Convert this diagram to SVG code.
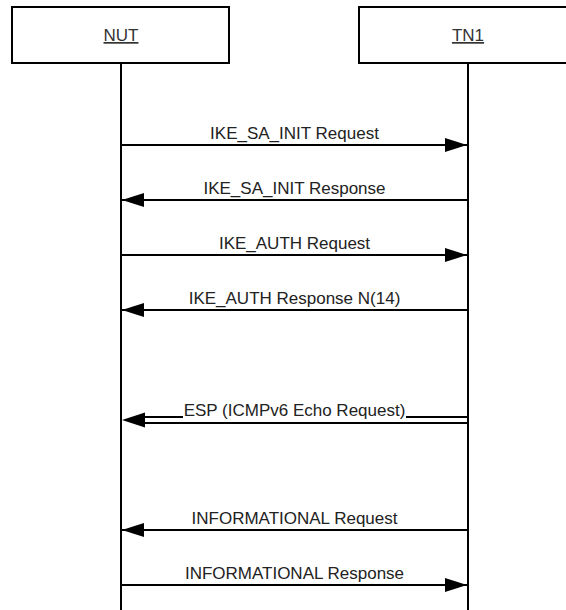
<svg xmlns="http://www.w3.org/2000/svg" width="566" height="610" viewBox="0 0 566 610">
<style>
.box{fill:#fff;stroke:#000;stroke-width:2}
.life{stroke:#000;stroke-width:2}
.msg{stroke:#000;stroke-width:2;fill:none}
.head{fill:#000}
.lbl{font-family:"Liberation Sans",Arial,sans-serif;font-size:17px;fill:#222;text-anchor:middle}
.title{font-family:"Liberation Sans",Arial,sans-serif;font-size:17px;fill:#333;text-anchor:middle;text-decoration:underline}
</style>
<defs>
<marker id="ah" viewBox="0 0 22 14" refX="22" refY="7" markerWidth="22" markerHeight="14" markerUnits="userSpaceOnUse" orient="auto">
<path d="M0,0 L22,7 L0,14 Z" class="head"/>
</marker>
</defs>
<g id="NUT">
<rect class="box" x="12" y="7" width="217" height="56"/>
<text class="title" x="121" y="41">NUT</text>
<line class="life" x1="121" y1="63" x2="121" y2="610"/>
</g>
<g id="TN1">
<rect class="box" x="359" y="7" width="217" height="56"/>
<text class="title" x="468" y="41">TN1</text>
<line class="life" x1="468" y1="63" x2="468" y2="610"/>
</g>
<g id="connectors">
<line class="msg" x1="121" y1="145" x2="467" y2="145" marker-end="url(#ah)"/>
<text class="lbl" x="294.5" y="139">IKE_SA_INIT Request</text>
<line class="msg" x1="468" y1="200" x2="122" y2="200" marker-end="url(#ah)"/>
<text class="lbl" x="294.5" y="194">IKE_SA_INIT Response</text>
<line class="msg" x1="121" y1="255" x2="467" y2="255" marker-end="url(#ah)"/>
<text class="lbl" x="294.5" y="249">IKE_AUTH Request</text>
<line class="msg" x1="468" y1="310" x2="122" y2="310" marker-end="url(#ah)"/>
<text class="lbl" x="294.5" y="304">IKE_AUTH Response N(14)</text>
<line class="msg" x1="145" y1="417" x2="183" y2="417"/>
<line class="msg" x1="406" y1="417" x2="468" y2="417"/>
<line class="msg" x1="145" y1="423" x2="468" y2="423"/>
<path class="head" d="M122,420 L145,412.5 L145,427.5 Z"/>
<text class="lbl" x="294.5" y="416">ESP (ICMPv6 Echo Request)</text>
<line class="msg" x1="468" y1="530" x2="122" y2="530" marker-end="url(#ah)"/>
<text class="lbl" x="294.5" y="524">INFORMATIONAL Request</text>
<line class="msg" x1="121" y1="585" x2="467" y2="585" marker-end="url(#ah)"/>
<text class="lbl" x="294.5" y="579">INFORMATIONAL Response</text>
</g>
</svg>
